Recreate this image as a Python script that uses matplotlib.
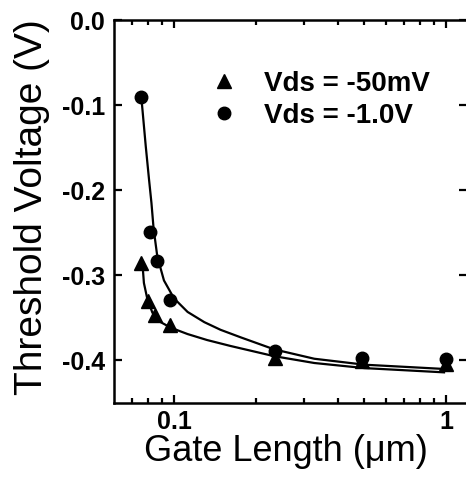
import matplotlib
matplotlib.use("Agg")
import matplotlib.pyplot as plt
from matplotlib.ticker import FixedLocator, FixedFormatter, LogLocator, NullFormatter

plt.rcParams['font.family'] = ['Liberation Sans', 'DejaVu Sans']

# ---- data ----
len_low = [0.0757, 0.0801, 0.0852, 0.0967, 0.235, 0.49, 1.0]
vth_low = [-0.286, -0.330, -0.347, -0.358, -0.397, -0.401, -0.404]
len_high = [0.0757, 0.0812, 0.0866, 0.0969, 0.235, 0.49, 1.0]
vth_high = [-0.090, -0.249, -0.283, -0.329, -0.389, -0.397, -0.398]

fit_low_x = [0.0764, 0.0774, 0.0797, 0.0832, 0.0892, 0.0971, 0.112, 0.132, 0.161,
             0.233, 0.327, 0.50, 0.75, 0.98]
fit_low_y = [-0.285, -0.309, -0.328, -0.344, -0.355, -0.3615, -0.369, -0.376, -0.383,
             -0.395, -0.403, -0.409, -0.412, -0.414]
fit_high_x = [0.0757, 0.0786, 0.0808, 0.0825, 0.0840, 0.0867, 0.0917, 0.0998, 0.112,
              0.129, 0.148, 0.176, 0.233, 0.327, 0.50, 0.75, 0.98]
fit_high_y = [-0.090, -0.148, -0.187, -0.215, -0.245, -0.278, -0.306, -0.327, -0.343,
              -0.355, -0.364, -0.373, -0.387, -0.398, -0.405, -0.408, -0.410]

labels = ["Vds = -50mV", "Vds = -1.0V"]
yticks = [0.0, -0.1, -0.2, -0.3, -0.4]
yticklabels = ["0.0", "-0.1", "-0.2", "-0.3", "-0.4"]
xticks = [0.1, 1]
xticklabels = ["0.1", "1"]

fig = plt.figure(figsize=(4.66, 4.87), dpi=100)
ax = fig.add_axes([114 / 466, 1 - 403 / 487, 353 / 466, 383 / 487])

ax.plot(fit_low_x, fit_low_y, color='black', lw=1.6, zorder=2)
ax.plot(fit_high_x, fit_high_y, color='black', lw=1.6, zorder=2)
h1, = ax.plot(len_low, vth_low, linestyle='none', marker='^', ms=10, color='black', zorder=3)
h2, = ax.plot(len_high, vth_high, linestyle='none', marker='o', ms=9, color='black', zorder=4)

ax.set_xscale('log')
ax.set_xlim(0.0601, 1.19)
ax.set_ylim(-0.45, 0.0)

ax.xaxis.set_major_locator(FixedLocator(xticks))
ax.xaxis.set_major_formatter(FixedFormatter(xticklabels))
ax.xaxis.set_minor_locator(LogLocator(base=10, subs=[2, 3, 4, 5, 6, 7, 8, 9]))
ax.xaxis.set_minor_formatter(NullFormatter())
ax.yaxis.set_major_locator(FixedLocator(yticks))
ax.yaxis.set_major_formatter(FixedFormatter(yticklabels))

for s in ax.spines.values():
    s.set_linewidth(1.8)

ax.tick_params(which='both', direction='in', top=True, right=True, width=1.6)
ax.tick_params(which='major', length=6)
ax.tick_params(which='minor', length=3.5)
ax.tick_params(axis='x', which='major', pad=5)
ax.tick_params(axis='y', which='major', pad=6.5)
for lab in ax.get_xticklabels() + ax.get_yticklabels():
    lab.set_fontsize(18)
    lab.set_fontweight('bold')

ax.set_xlabel("Gate Length (\u03bcm)", fontsize=26, va='baseline')
ax.xaxis.set_label_coords((285.5 - 114) / 353, (403 - 461) / 383)
ax.set_ylabel("Threshold Voltage (V)", fontsize=28, va='baseline')
ax.yaxis.set_label_coords((42 - 114) / 353, (403 - 207.5) / 383)

leg = ax.legend([h1, h2], labels, loc='upper left',
                bbox_to_anchor=((210 - 114) / 353, (403 - 71) / 383),
                frameon=False, borderpad=0, borderaxespad=0,
                handlelength=1.0, handletextpad=0.95, labelspacing=0.22,
                prop={'weight': 'bold', 'size': 20})

fig.savefig("out.png", dpi=100)
